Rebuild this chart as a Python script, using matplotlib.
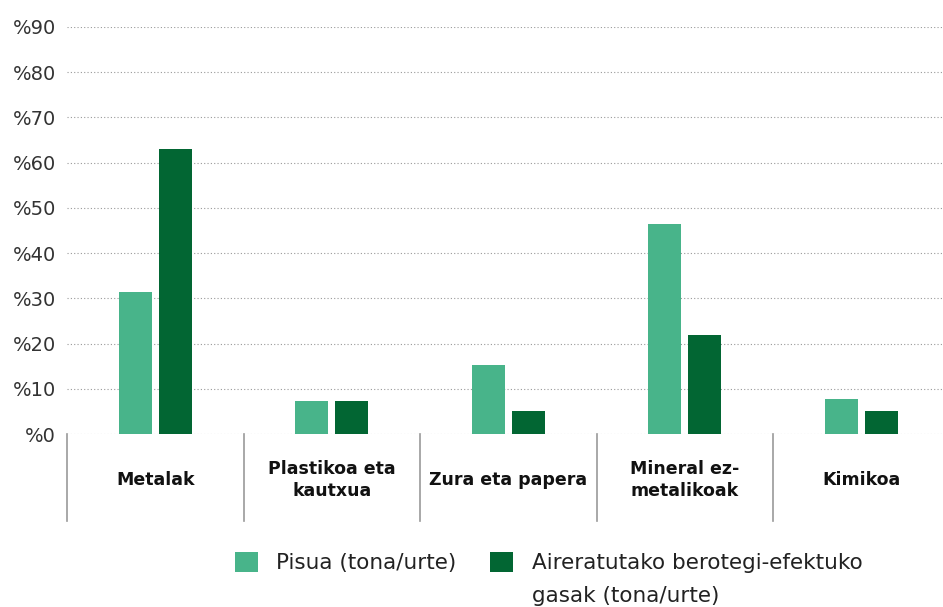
import matplotlib
matplotlib.use("Agg")
import matplotlib.pyplot as plt
import numpy as np

categories = ["Metalak", "Plastikoa eta\nkautxua", "Zura eta papera", "Mineral ez-\nmetalikoak", "Kimikoa"]
pisua = [31.5, 7.3, 15.3, 46.5, 7.8]
gasak = [63.0, 7.3, 5.1, 22.0, 5.1]
yticks = [0, 10, 20, 30, 40, 50, 60, 70, 80, 90]
ytick_labels = ["%" + str(v) for v in yticks]
legend_labels = ["Pisua (tona/urte)", "Aireratutako berotegi-efektuko"]
legend_line2 = "gasak (tona/urte)"

light = "#48b48a"
dark = "#026633"

plt.rcParams['font.family'] = ['DejaVu Sans']

W, H = 943, 607
fig = plt.figure(figsize=(W / 100, H / 100), dpi=100)

left_px, right_px = 67, 943
bottom_px = 434
top_px = 27
ymax = 90.0
ax = fig.add_axes([left_px / W, 1 - bottom_px / H, (right_px - left_px) / W, (bottom_px - top_px) / H])

cat_w = 176.5
x = np.arange(len(categories))
bw = 33 / cat_w
off = 20 / cat_w
b1 = ax.bar(x - off, pisua, width=bw, color=light, zorder=3)
b2 = ax.bar(x + off, gasak, width=bw, color=dark, zorder=3)

ax.set_xlim(-0.5, -0.5 + (right_px - left_px) / cat_w)
ax.set_ylim(0, ymax)
ax.set_yticks(yticks)
ax.set_yticklabels(ytick_labels, fontsize=14, color="#333333")
ax.tick_params(axis='y', length=0, pad=8)
ax.set_xticks([])
for s in ax.spines.values():
    s.set_visible(False)
ax.grid(axis='y', linestyle=(0, (1, 2)), color="#999999", linewidth=0.8, zorder=0)
ax.set_axisbelow(True)

px_per_unit = (bottom_px - top_px) / ymax
sep_bottom = -(521 - bottom_px) / px_per_unit
for i in range(len(categories)):
    ax.plot([i - 0.5, i - 0.5], [0, sep_bottom], color="#999999", linewidth=1.2, clip_on=False)
    ax.text(i, -(480 - bottom_px) / px_per_unit, categories[i], ha='center', va='center',
            fontsize=12.5, fontweight='bold', color="#111111", linespacing=1.3)

fs = 15.5
leg = fig.legend([b1, b2], legend_labels, ncol=2, frameon=False,
                 loc='upper left', bbox_to_anchor=(235 / W, 1 - 552 / H),
                 fontsize=fs, handlelength=1.07, handleheight=1.07,
                 handletextpad=0.84, columnspacing=1.58, borderpad=0, borderaxespad=0)
for t in leg.get_texts():
    t.set_color("#222222")
fig.canvas.draw()
tb = leg.get_texts()[1].get_window_extent()
fig.text(tb.x0 / W, 1 - 596 / H, legend_line2, fontsize=fs, color="#222222", ha='left', va='center')

fig.savefig("out.png", dpi=100)
